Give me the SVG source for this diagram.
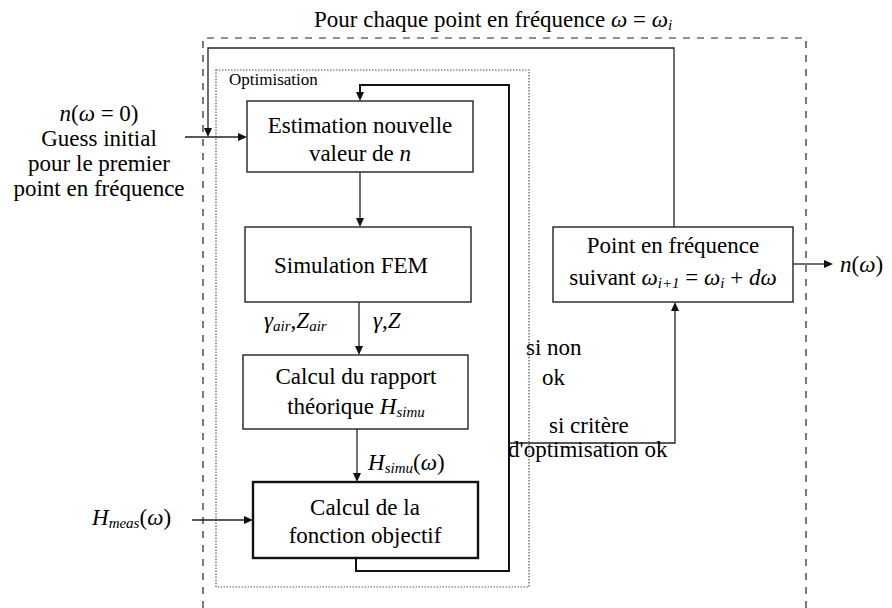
<svg xmlns="http://www.w3.org/2000/svg" width="892" height="608" viewBox="0 0 892 608" font-family="Liberation Serif">
<rect width="892" height="608" fill="#fff"/>

<g id="frame-outer">
<path d="M203,608 V38 H806 V608" fill="none" stroke="#222" stroke-width="1.2" stroke-dasharray="7,7"/>
<text font-family="Liberation Serif" font-size="23" x="314" y="27">Pour chaque point en fréquence <tspan font-style="italic">ω</tspan> = <tspan font-style="italic">ω</tspan><tspan font-style="italic" font-size="15" dy="3">i</tspan></text>
</g>

<g id="frame-optim">
<rect x="216" y="70" width="313" height="517" fill="none" stroke="#555" stroke-width="1.2" stroke-dasharray="1.5,1.5"/>
<text font-family="Liberation Serif" font-size="17" x="229" y="85">Optimisation</text>
</g>

<g id="connectors">
<g fill="none" stroke="#222" stroke-width="1.3">
<polyline points="674,227 674,48 208,48 208,129"/>
<line x1="185" y1="137" x2="239" y2="137"/>
<line x1="360" y1="172" x2="360" y2="219"/>
<line x1="359" y1="302" x2="359" y2="347"/>
<line x1="357" y1="429" x2="357" y2="474"/>
<line x1="192" y1="520" x2="245" y2="520"/>
<polyline stroke="#111" stroke-width="2" points="356,558 356,571 509,571 509,85 360,85 360,93"/>
<polyline points="509,443 675,443 675,310"/>
<line x1="793" y1="264" x2="825" y2="264"/>
</g>
<g fill="#111">
<polygon points="204,128 212,128 208,137"/>
<polygon points="238,133 238,141 247,137"/>
<polygon points="356,218 364,218 360,227"/>
<polygon points="355,346 363,346 359,355"/>
<polygon points="353,473 361,473 357,482"/>
<polygon points="244,516 244,524 253,520"/>
<polygon points="356,92 364,92 360,101"/>
<polygon points="671,311 679,311 675,302"/>
<polygon points="824,260 824,268 833,264"/>
</g>
</g>

<g id="node-init">
<text font-family="Liberation Serif" font-size="23" text-anchor="middle" x="99" y="121"><tspan font-style="italic">n</tspan>(<tspan font-style="italic">ω</tspan> = 0)</text>
<text font-family="Liberation Serif" font-size="23" text-anchor="middle" x="99" y="146">Guess initial</text>
<text font-family="Liberation Serif" font-size="23" text-anchor="middle" x="99" y="171">pour le premier</text>
<text font-family="Liberation Serif" font-size="23" text-anchor="middle" x="99" y="196">point en fréquence</text>
</g>

<g id="node-estimation">
<rect x="247" y="101" width="226" height="71" fill="#fff" stroke="#222" stroke-width="1.4"/>
<text font-family="Liberation Serif" font-size="23" text-anchor="middle" x="360" y="133">Estimation nouvelle</text>
<text font-family="Liberation Serif" font-size="23" text-anchor="middle" x="360" y="161">valeur de <tspan font-style="italic">n</tspan></text>
</g>

<g id="node-fem">
<rect x="245" y="227" width="226" height="75" fill="#fff" stroke="#222" stroke-width="1.4"/>
<text font-family="Liberation Serif" font-size="23" text-anchor="middle" x="351" y="273">Simulation FEM</text>
</g>
<g id="label-fem">
<text font-family="Liberation Serif" font-size="23" x="264" y="328"><tspan font-style="italic">γ</tspan><tspan font-style="italic" font-size="15" dy="3">air</tspan><tspan dy="-3">,</tspan><tspan font-style="italic">Z</tspan><tspan font-style="italic" font-size="15" dy="3">air</tspan></text>
<text font-family="Liberation Serif" font-size="23" x="373" y="328"><tspan font-style="italic">γ</tspan>,<tspan font-style="italic">Z</tspan></text>
</g>

<g id="node-rapport">
<rect x="243" y="355" width="225" height="74" fill="#fff" stroke="#222" stroke-width="1.4"/>
<text font-family="Liberation Serif" font-size="23" text-anchor="middle" x="356" y="384">Calcul du rapport</text>
<text font-family="Liberation Serif" font-size="23" text-anchor="middle" x="356" y="414">théorique <tspan font-style="italic">H</tspan><tspan font-style="italic" font-size="15" dy="3">simu</tspan></text>
</g>
<g id="label-hsimu">
<text font-family="Liberation Serif" font-size="23" x="368" y="470"><tspan font-style="italic">H</tspan><tspan font-style="italic" font-size="15" dy="3">simu</tspan><tspan dy="-3">(</tspan><tspan font-style="italic">ω</tspan>)</text>
</g>

<g id="node-objectif">
<rect x="253" y="482" width="225" height="76" fill="#fff" stroke="#111" stroke-width="2.4"/>
<text font-family="Liberation Serif" font-size="23" text-anchor="middle" x="365" y="515">Calcul de la</text>
<text font-family="Liberation Serif" font-size="23" text-anchor="middle" x="365" y="543">fonction objectif</text>
</g>

<g id="node-hmeas">
<text font-family="Liberation Serif" font-size="23" x="92" y="525"><tspan font-style="italic">H</tspan><tspan font-style="italic" font-size="15" dy="3">meas</tspan><tspan dy="-3">(</tspan><tspan font-style="italic">ω</tspan>)</text>
</g>

<g id="node-next">
<rect x="553" y="227" width="240" height="75" fill="#fff" stroke="#222" stroke-width="1.4"/>
<text font-family="Liberation Serif" font-size="23" text-anchor="middle" x="673" y="253">Point en fréquence</text>
<text font-family="Liberation Serif" font-size="23" text-anchor="middle" x="673" y="285">suivant <tspan font-style="italic">ω</tspan><tspan font-style="italic" font-size="15" dy="3">i+1</tspan><tspan dy="-3"> = </tspan><tspan font-style="italic">ω</tspan><tspan font-style="italic" font-size="15" dy="3">i</tspan><tspan dy="-3"> + </tspan><tspan font-style="italic">dω</tspan></text>
</g>

<g id="node-output">
<text font-family="Liberation Serif" font-size="23" x="840" y="272"><tspan font-style="italic">n</tspan>(<tspan font-style="italic">ω</tspan>)</text>
</g>

<g id="labels-branch">
<text font-family="Liberation Serif" font-size="23" x="526" y="355">si non</text>
<text font-family="Liberation Serif" font-size="23" x="542" y="385">ok</text>
<text font-family="Liberation Serif" font-size="23" x="549" y="433">si critère</text>
<text font-family="Liberation Serif" font-size="23" x="508" y="457">d'optimisation ok</text>
</g>
</svg>
